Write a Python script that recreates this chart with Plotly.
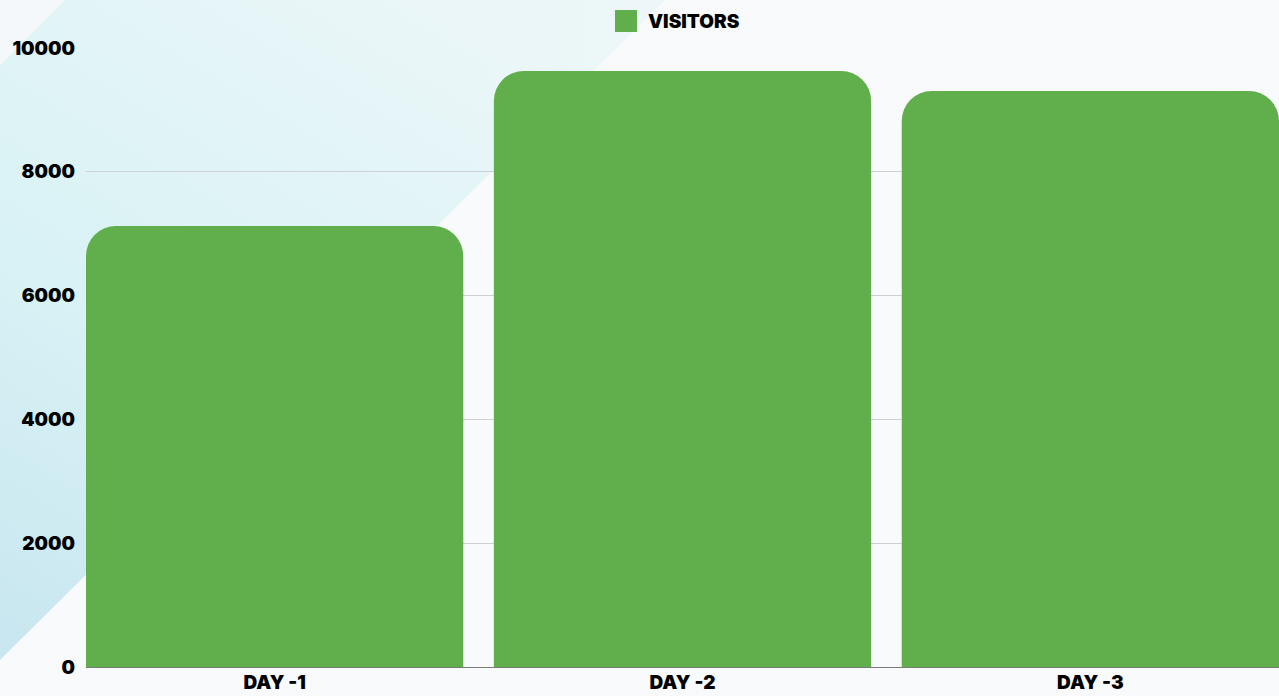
import base64

import plotly.graph_objects as go

# data
days = ["DAY -1", "DAY -2", "DAY -3"]
visitors = [7125, 9630, 9305]
y_ticks = [0, 2000, 4000, 6000, 8000, 10000]

W, H = 1279, 696
M_L, M_R, M_T, M_B = 86, 0, 48, 29
PW, PH = W - M_L - M_R, H - M_T - M_B

BAR_COLOR = "#61AE4C"
FONT = "Inter"

# decorative background: diagonal cyan band, bottom-left to top-right
bg_svg = f"""<svg xmlns='http://www.w3.org/2000/svg' width='{W}' height='{H}'>
<defs>
<linearGradient id='g' x1='0' y1='1' x2='0.6' y2='0'>
<stop offset='0' stop-color='#C8E6F0'/>
<stop offset='0.45' stop-color='#D8F2F5'/>
<stop offset='1' stop-color='#EAF6F8'/>
</linearGradient>
<linearGradient id='w' x1='0' y1='0' x2='1' y2='0'>
<stop offset='0' stop-color='#F6F9FA' stop-opacity='0'/>
<stop offset='1' stop-color='#F9FAFB' stop-opacity='1'/>
</linearGradient>
</defs>
<rect width='{W}' height='{H}' fill='#F8FAFB'/>
<polygon points='0,{H} 0,634 640,0 0,0' fill='#EFF6F8'/>
<polygon points='0,65 65,0 665,0 0,660' fill='url(#g)'/>
<polygon points='0,0 65,0 0,65' fill='#F5F8FA'/>
<rect x='460' y='0' width='{W - 460}' height='{H}' fill='url(#w)'/>
</svg>"""
bg_src = "data:image/svg+xml;base64," + base64.b64encode(bg_svg.encode()).decode()

fig = go.Figure()
fig.add_trace(
    go.Bar(
        x=days,
        y=visitors,
        name="VISITORS",
        marker=dict(color=BAR_COLOR, cornerradius=30, line=dict(width=0)),
        showlegend=False,
    )
)

fig.add_layout_image(
    dict(
        source=bg_src,
        xref="paper",
        yref="paper",
        x=-M_L / PW,
        y=1 + M_T / PH,
        sizex=W / PW,
        sizey=H / PH,
        xanchor="left",
        yanchor="top",
        sizing="stretch",
        layer="below",
    )
)

# legend drawn by hand so the swatch can be as large as in the original
fig.add_shape(
    type="rect",
    xref="paper",
    yref="paper",
    x0=(615 - M_L) / PW,
    x1=(637 - M_L) / PW,
    y0=1 + (M_T - 32) / PH,
    y1=1 + (M_T - 10) / PH,
    fillcolor=BAR_COLOR,
    line=dict(width=0),
)
fig.add_annotation(
    text="VISITORS",
    xref="paper",
    yref="paper",
    x=(646 - M_L) / PW,
    y=1 + (M_T - 21) / PH,
    xanchor="left",
    yanchor="middle",
    showarrow=False,
    font=dict(family=FONT, size=19, color="#000", weight=900),
)

fig.update_layout(
    width=W,
    height=H,
    margin=dict(l=M_L, r=M_R, t=M_T, b=M_B),
    paper_bgcolor="#F8FAFB",
    plot_bgcolor="rgba(0,0,0,0)",
    bargap=0.075,
    font=dict(family=FONT, size=19, color="#000", weight=900),
    xaxis=dict(
        range=[-0.4625, 2.4625],
        showgrid=False,
        ticks="",
        ticklabelstandoff=2,
        fixedrange=True,
    ),
    yaxis=dict(
        range=[0, 10000],
        tickvals=y_ticks,
        tickformat="d",
        showgrid=True,
        gridcolor="#CBD1D6",
        gridwidth=1,
        zeroline=True,
        zerolinecolor="#7A7A7A",
        zerolinewidth=1,
        ticks="",
        ticklabelstandoff=10,
        fixedrange=True,
    ),
)

fig.write_html(
    "out.html",
    config={"displayModeBar": False},
    post_script="document.body.style.margin='0';",
)
